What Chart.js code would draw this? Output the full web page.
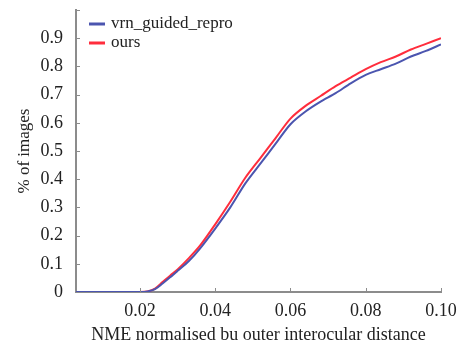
<!DOCTYPE html>
<html>
<head>
<meta charset="utf-8">
<script src="https://cdn.jsdelivr.net/npm/chart.js@4"></script>
<style>
  html, body { margin: 0; padding: 0; background: #fff; }
  #wrap { width: 468px; height: 350px; }
</style>
</head>
<body>
<div id="wrap"><canvas id="nmeChart"></canvas></div>
<script>
// NME values (x) and cumulative share of images for each method
var nme = [0.003, 0.01, 0.02, 0.022, 0.024, 0.026, 0.028, 0.030, 0.033, 0.036, 0.040, 0.044, 0.048, 0.052, 0.056, 0.060, 0.064, 0.068, 0.072, 0.076, 0.080, 0.084, 0.088, 0.092, 0.096, 0.100];
var vrnGuided = [0, 0, 0, 0.002, 0.010, 0.030, 0.052, 0.075, 0.110, 0.155, 0.225, 0.300, 0.385, 0.455, 0.525, 0.595, 0.640, 0.675, 0.705, 0.740, 0.770, 0.790, 0.810, 0.835, 0.855, 0.878];
var ours = [0, 0, 0, 0.002, 0.012, 0.035, 0.058, 0.080, 0.120, 0.165, 0.240, 0.320, 0.405, 0.475, 0.545, 0.615, 0.660, 0.695, 0.730, 0.760, 0.790, 0.815, 0.835, 0.860, 0.880, 0.900];
var xTicks = [0.02, 0.04, 0.06, 0.08, 0.10];
var yTicks = [0, 0.1, 0.2, 0.3, 0.4, 0.5, 0.6, 0.7, 0.8, 0.9];

function toPoints(ys) {
    return nme.map(function (x, i) { return { x: x, y: ys[i] }; });
}

var serif = '"Liberation Serif", "DejaVu Serif", serif';
var axisColor = '#8c8c8c';

// small inward tick marks + legend drawn inside the plot, top left
var insidePlugin = {
    id: 'inside',
    afterDraw: function (chart) {
        var c = chart.ctx, a = chart.chartArea;
        var sx = chart.scales.x, sy = chart.scales.y;
        c.save();
        c.strokeStyle = axisColor;
        c.lineWidth = 1;
        c.beginPath();
        yTicks.concat([1]).forEach(function (v) {
            var py = Math.round(sy.getPixelForValue(v)) + 0.5;
            c.moveTo(a.left, py); c.lineTo(a.left + 4, py);
        });
        xTicks.forEach(function (v) {
            var px = Math.round(sx.getPixelForValue(v)) + 0.5;
            c.moveTo(px, a.bottom); c.lineTo(px, a.bottom - 4);
        });
        c.stroke();
        c.restore();

        c.save();
        c.font = '17px ' + serif;
        c.textBaseline = 'middle';
        chart.data.datasets.forEach(function (ds, i) {
            var y = a.top + 14 + i * 19;
            c.strokeStyle = ds.borderColor;
            c.lineWidth = 3;
            c.beginPath();
            c.moveTo(a.left + 13, y); c.lineTo(a.left + 29, y);
            c.stroke();
            c.fillStyle = '#222';
            c.fillText(ds.label, a.left + 35, y);
        });
        c.restore();
    }
};

var ctx = document.getElementById('nmeChart').getContext('2d');
var chart = new Chart(ctx, {
    type: 'line',
    data: {
        datasets: [{
            label: 'vrn_guided_repro',
            data: toPoints(vrnGuided),
            borderColor: 'rgb(75, 85, 175)',
            backgroundColor: 'rgb(75, 85, 175)',
            borderWidth: 2,
            pointRadius: 0,
            tension: 0.3
        }, {
            label: 'ours',
            data: toPoints(ours),
            borderColor: 'rgb(255, 45, 60)',
            backgroundColor: 'rgb(255, 45, 60)',
            borderWidth: 2,
            pointRadius: 0,
            tension: 0.3
        }]
    },
    options: {
        responsive: true,
        maintainAspectRatio: false,
        animation: false,
        layout: { padding: { top: 10, right: 27, left: 10, bottom: 0 } },
        plugins: {
            tooltip: { enabled: false },
            legend: { display: false }
        },
        scales: {
            x: {
                type: 'linear',
                min: 0.003,
                max: 0.1,
                afterBuildTicks: function (s) { s.ticks = xTicks.map(function (v) { return { value: v }; }); },
                afterFit: function (s) { s.height = 58; s.paddingRight = 0; s.paddingLeft = 0; },
                grid: { display: false, drawTicks: false },
                border: { display: true, color: axisColor, width: 2 },
                ticks: {
                    padding: 8,
                    color: '#222',
                    font: { family: serif, size: 18 },
                    callback: function (v) { return v.toFixed(2); }
                },
                title: {
                    display: true,
                    text: 'NME normalised bu outer interocular distance',
                    color: '#222',
                    font: { family: serif, size: 18 },
                    padding: { top: 4 }
                }
            },
            y: {
                type: 'linear',
                min: 0,
                max: 1,
                afterBuildTicks: function (s) { s.ticks = yTicks.map(function (v) { return { value: v }; }); },
                afterFit: function (s) { s.width = 66; s.paddingTop = 0; s.paddingBottom = 0; },
                grid: { display: false, drawTicks: false },
                border: { display: true, color: axisColor, width: 2 },
                ticks: {
                    padding: 13,
                    color: '#222',
                    font: { family: serif, size: 18 },
                    callback: function (v) { return v === 0 ? '0' : v.toFixed(1); }
                },
                title: {
                    display: true,
                    text: '% of images',
                    color: '#222',
                    font: { family: serif, size: 17 },
                    padding: { bottom: 4 }
                }
            }
        }
    },
    plugins: [insidePlugin]
});
</script>
</body>
</html>
